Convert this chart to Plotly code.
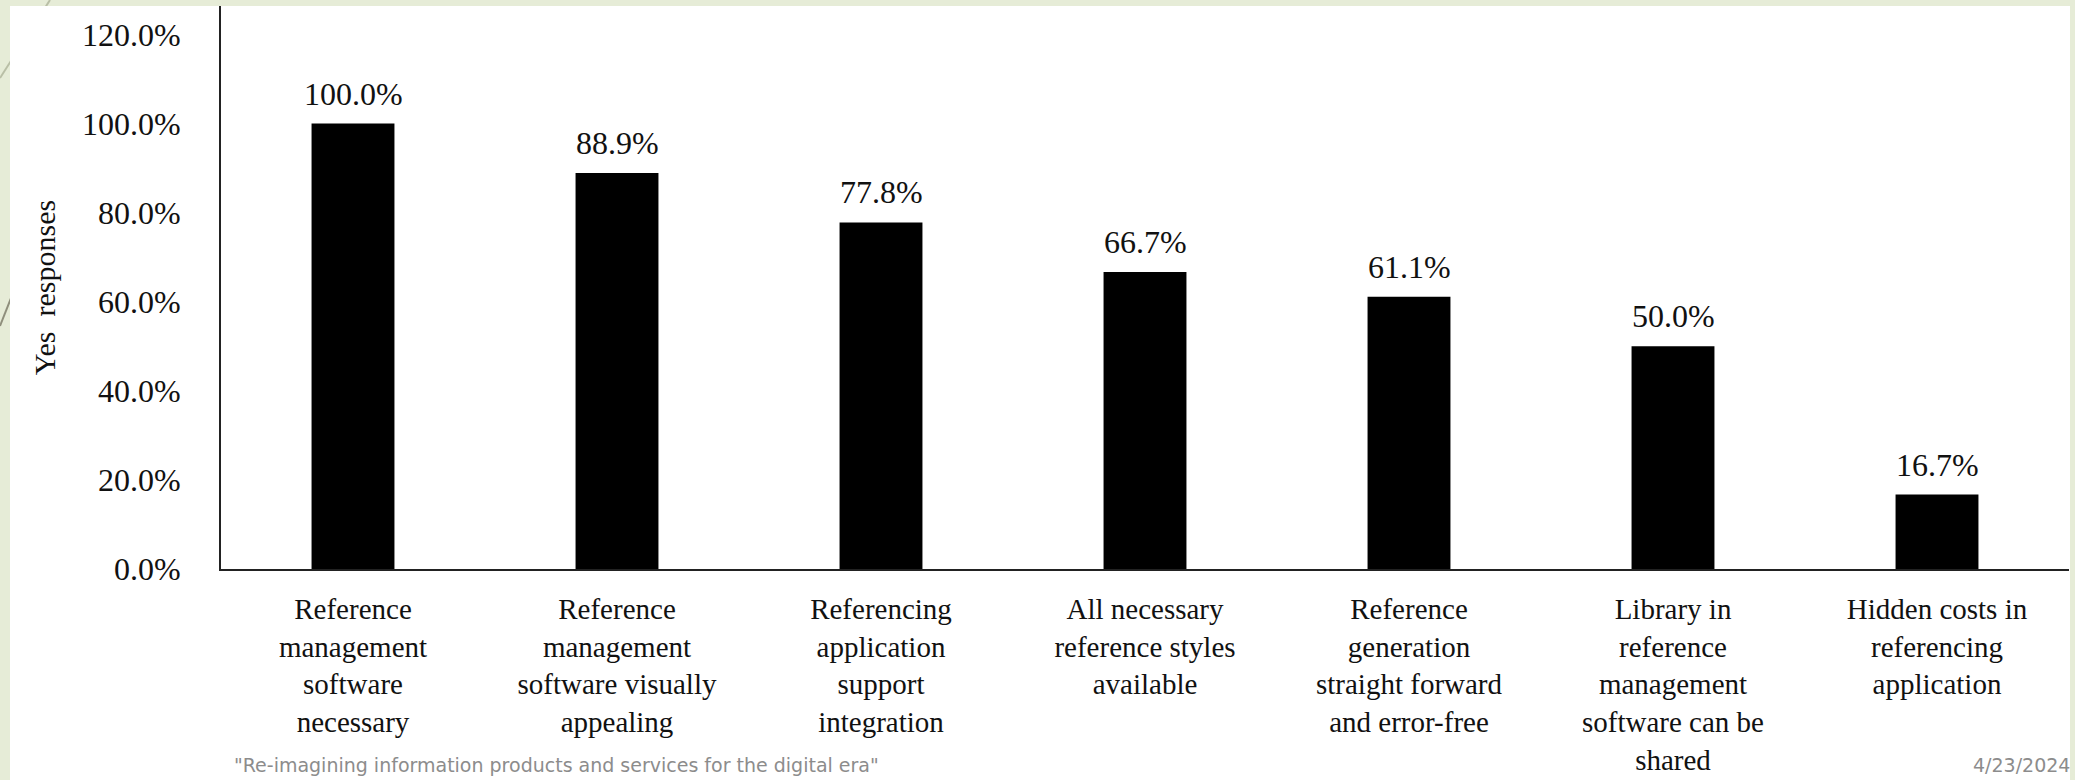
import plotly.graph_objects as go

# ---- data ----
categories = [
    "Reference<br>management<br>software<br>necessary",
    "Reference<br>management<br>software visually<br>appealing",
    "Referencing<br>application<br>support<br>integration",
    "All necessary<br>reference styles<br>available",
    "Reference<br>generation<br>straight forward<br>and error-free",
    "Library in<br>reference<br>management<br>software can be<br>shared",
    "Hidden costs in<br>referencing<br>application",
]
yes_pct = [100.0, 88.9, 77.8, 66.7, 61.1, 50.0, 16.7]
y_ticks = [0, 20, 40, 60, 80, 100, 120]
y_ticktext = ["0.0%", "20.0%", "40.0%", "60.0%", "80.0%", "100.0%", "120.0%"]
y_title = "Yes\u00a0 responses"
footer_left = '"Re-imagining information products and services for the digital era"'
footer_right = "4/23/2024"

# ---- layout geometry (pixels) ----
WIDTH, HEIGHT = 2075, 780
L, R, T, B = 221, 2069, 6, 569
PW, PH = R - L, B - T


def px(x):
    return (x - L) / PW


def py(y):
    return (B - y) / PH


SERIF = "Liberation Serif, Times New Roman, serif"
TXT = "#111111"

fig = go.Figure()
fig.add_trace(go.Bar(
    x=categories, y=yes_pct,
    marker=dict(color="#000000", line=dict(width=0)),
    showlegend=False, hoverinfo="x+y",
))

annotations = []
for c, v in zip(categories, yes_pct):
    annotations.append(dict(
        x=c, y=v, xref="x", yref="y", text=f"{v:.1f}%", showarrow=False,
        yanchor="middle", yshift=30, font=dict(family=SERIF, size=32, color=TXT),
    ))

annotations.append(dict(
    x=px(232), y=py(765), xref="paper", yref="paper", text=footer_left,
    showarrow=False, xanchor="left", yanchor="middle",
    font=dict(family="DejaVu Sans, sans-serif", size=19, color="#8c8c8c"),
))
annotations.append(dict(
    x=px(2072), y=py(765), xref="paper", yref="paper", text=footer_right,
    showarrow=False, xanchor="right", yanchor="middle",
    font=dict(family="DejaVu Sans, sans-serif", size=19, color="#8c8c8c"),
))

shapes = [
    # decorative theme lines on the green border
    dict(type="line", xref="paper", yref="paper", x0=px(50), y0=py(0), x1=px(0), y1=py(78),
         line=dict(color="#b9bfa6", width=2), layer="below"),
    dict(type="line", xref="paper", yref="paper", x0=px(30), y0=py(250), x1=px(0), y1=py(326),
         line=dict(color="#8f8f7c", width=2), layer="below"),
    # white slide picture area
    dict(type="rect", xref="paper", yref="paper", x0=px(10), x1=px(2070), y0=py(780), y1=py(6),
         fillcolor="#ffffff", line=dict(width=0), layer="below"),
]

fig.update_layout(
    width=WIDTH, height=HEIGHT,
    margin=dict(l=L, r=WIDTH - R, t=T, b=HEIGHT - B, autoexpand=False),
    paper_bgcolor="#e6ecd7",
    plot_bgcolor="#ffffff",
    bargap=0.686,
    annotations=annotations,
    shapes=shapes,
    xaxis=dict(
        showgrid=False, zeroline=False, showline=True, linecolor="#222222", linewidth=2,
        ticks="", tickfont=dict(family=SERIF, size=29, color=TXT),
        ticklabelstandoff=13, automargin=False,
    ),
    yaxis=dict(
        range=[0, 126.4], tickvals=y_ticks, ticktext=y_ticktext,
        showgrid=False, zeroline=False, showline=True, linecolor="#222222", linewidth=2,
        ticks="", tickfont=dict(family=SERIF, size=32, color=TXT),
        ticklabelstandoff=32, automargin=False,
        title=dict(text=y_title, font=dict(family=SERIF, size=30, color=TXT), standoff=17),
    ),
)

fig.write_html("out.html", config={"displayModeBar": False},
               post_script="document.body.style.margin='0';")
